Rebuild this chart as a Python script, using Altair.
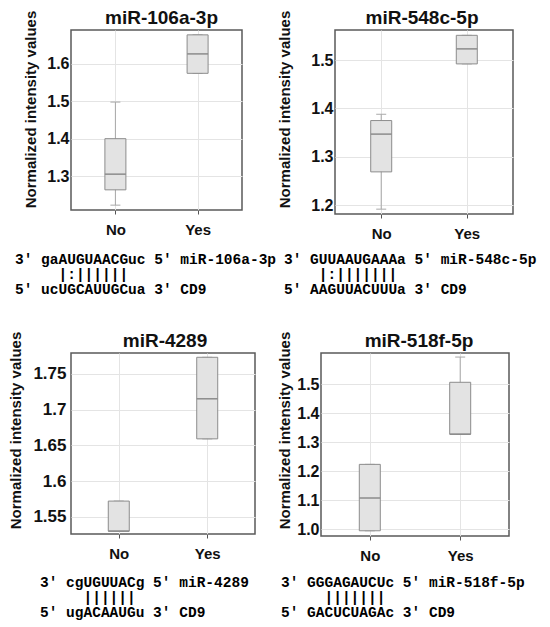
import altair as alt
import pandas as pd

groups = ["No", "Yes"]

# miR-106a-3p
p1_lo = [1.222, 1.575]
p1_q1 = [1.263, 1.575]
p1_med = [1.305, 1.627]
p1_q3 = [1.400, 1.678]
p1_hi = [1.498, 1.678]
p1_ticks = [1.3, 1.4, 1.5, 1.6]
p1_seq = ["3' gaAUGUAACGuc 5' miR-106a-3p", "     |:||||||", "5' ucUGCAUUGCua 3' CD9"]

# miR-548c-5p
p2_lo = [1.192, 1.492]
p2_q1 = [1.269, 1.492]
p2_med = [1.347, 1.523]
p2_q3 = [1.375, 1.551]
p2_hi = [1.388, 1.551]
p2_ticks = [1.2, 1.3, 1.4, 1.5]
p2_seq = ["3' GUUAAUGAAAa 5' miR-548c-5p", "    |:|||||||", "5' AAGUUACUUUa 3' CD9"]

# miR-4289
p3_lo = [1.530, 1.659]
p3_q1 = [1.530, 1.659]
p3_med = [1.530, 1.715]
p3_q3 = [1.572, 1.773]
p3_hi = [1.572, 1.773]
p3_ticks = [1.55, 1.6, 1.65, 1.7, 1.75]
p3_seq = ["3' cgUGUUACg 5' miR-4289", "     ||||||", "5' ugACAAUGu 3' CD9"]

# miR-518f-5p
p4_lo = [0.994, 1.327]
p4_q1 = [0.994, 1.327]
p4_med = [1.107, 1.327]
p4_q3 = [1.223, 1.506]
p4_hi = [1.223, 1.593]
p4_ticks = [1.0, 1.1, 1.2, 1.3, 1.4, 1.5]
p4_seq = ["3' GGGAGAUCUc 5' miR-518f-5p", "     |||||||", "5' GACUCUAGAc 3' CD9"]

YTITLE = "Normalized intensity values"
BOX_STROKE = "#8c8c8c"
MONO_SIZE = 14.5
CHAR_W = 0.6 * MONO_SIZE


def panel(name, lo, q1, med, q3, hi, ticks, fmt, domain, w, h, text_x, seq,
          title_dx, ytitle_y, label_pad, title_pad, label_size):
    df = pd.DataFrame({"group": groups, "lo": lo, "q1": q1, "med": med, "q3": q3, "hi": hi})
    yscale = alt.Scale(domain=domain, nice=False, zero=False)
    yaxis = alt.Axis(values=ticks, format=fmt, ticks=False, tickSize=0,
                     labelPadding=label_pad, labelFontSize=label_size,
                     titleFontSize=15, titlePadding=title_pad, titleY=ytitle_y, grid=True)
    xaxis = alt.Axis(title=None, labelAngle=0, labelFontSize=15, tickSize=4,
                     tickColor="#555555", labelPadding=8, grid=True)
    x = alt.X("group:N", scale=alt.Scale(type="point", padding=0.54), axis=xaxis)

    def Y(field):
        return alt.Y(f"{field}:Q", scale=yscale, axis=yaxis, title=YTITLE)

    base = alt.Chart(df).encode(x=x)
    whisker = base.mark_rule(color="#a8a8a8", strokeWidth=1).encode(y=Y("lo"), y2="hi:Q")
    cap_lo = base.mark_tick(size=10, thickness=1, color="#a8a8a8", opacity=1).encode(y=Y("lo"))
    cap_hi = base.mark_tick(size=10, thickness=1, color="#a8a8a8", opacity=1).encode(y=Y("hi"))
    box = base.mark_bar(size=21, fill="#e3e3e3", stroke=BOX_STROKE, strokeWidth=1).encode(
        y=Y("q1"), y2="q3:Q")
    median = base.mark_tick(size=21, thickness=1.5, color=BOX_STROKE, opacity=1).encode(y=Y("med"))

    title = alt.Chart(pd.DataFrame({"name": [name]})).mark_text(
        align="center", baseline="alphabetic", font="Liberation Sans", fontWeight="bold",
        fontSize=19, color="#111111"
    ).encode(text="name:N", x=alt.value(w / 2 + title_dx), y=alt.value(-6))

    layers = [whisker, cap_lo, cap_hi, box, median, title]
    for i, line in enumerate(seq):
        body = line.lstrip()
        indent = len(line) - len(body)
        layers.append(
            alt.Chart(pd.DataFrame({"txt": [body]})).mark_text(
                align="left", baseline="middle", font="Liberation Mono", fontWeight="bold",
                fontSize=MONO_SIZE, color="#000000"
            ).encode(text="txt:N", x=alt.value(text_x + indent * CHAR_W),
                     y=alt.value(230 + 15 * i))
        )

    return alt.layer(*layers).properties(width=w, height=h)


c1 = panel("miR-106a-3p", p1_lo, p1_q1, p1_med, p1_q3, p1_hi, p1_ticks, ".1f",
           [1.209, 1.691], 171, 180, -56, p1_seq, 5, 79, 2, 8, 16)
c2 = panel("miR-548c-5p", p2_lo, p2_q1, p2_med, p2_q3, p2_hi, p2_ticks, ".1f",
           [1.182, 1.562], 178, 184, -51, p2_seq, -2, 79, 2, 18, 16)
c3 = panel("miR-4289", p3_lo, p3_q1, p3_med, p3_q3, p3_hi, p3_ticks, ".2~f",
           [1.526, 1.779], 184, 181, -31, p3_seq, 2, 77, 5, 9, 17)
c4 = panel("miR-518f-5p", p4_lo, p4_q1, p4_med, p4_q3, p4_hi, p4_ticks, ".1f",
           [0.976, 1.607], 188, 183, -40, p4_seq, 4, 77, 2, 4, 16)

chart = alt.concat(
    c1, c2, c3, c4, columns=2, align="none", bounds="full",
    spacing={"row": 32, "column": 0},
).properties(padding=0).configure_view(
    stroke="#5a5a5a", strokeWidth=1.5
).configure_axis(
    labelFont="Liberation Sans", labelFontWeight="bold", labelColor="#111111",
    titleFont="Liberation Sans", titleFontWeight="bold", titleColor="#111111",
    gridColor="#e4e4e4", domain=False
)

chart.save("out.html", embed_options={"renderer": "svg", "actions": False})
